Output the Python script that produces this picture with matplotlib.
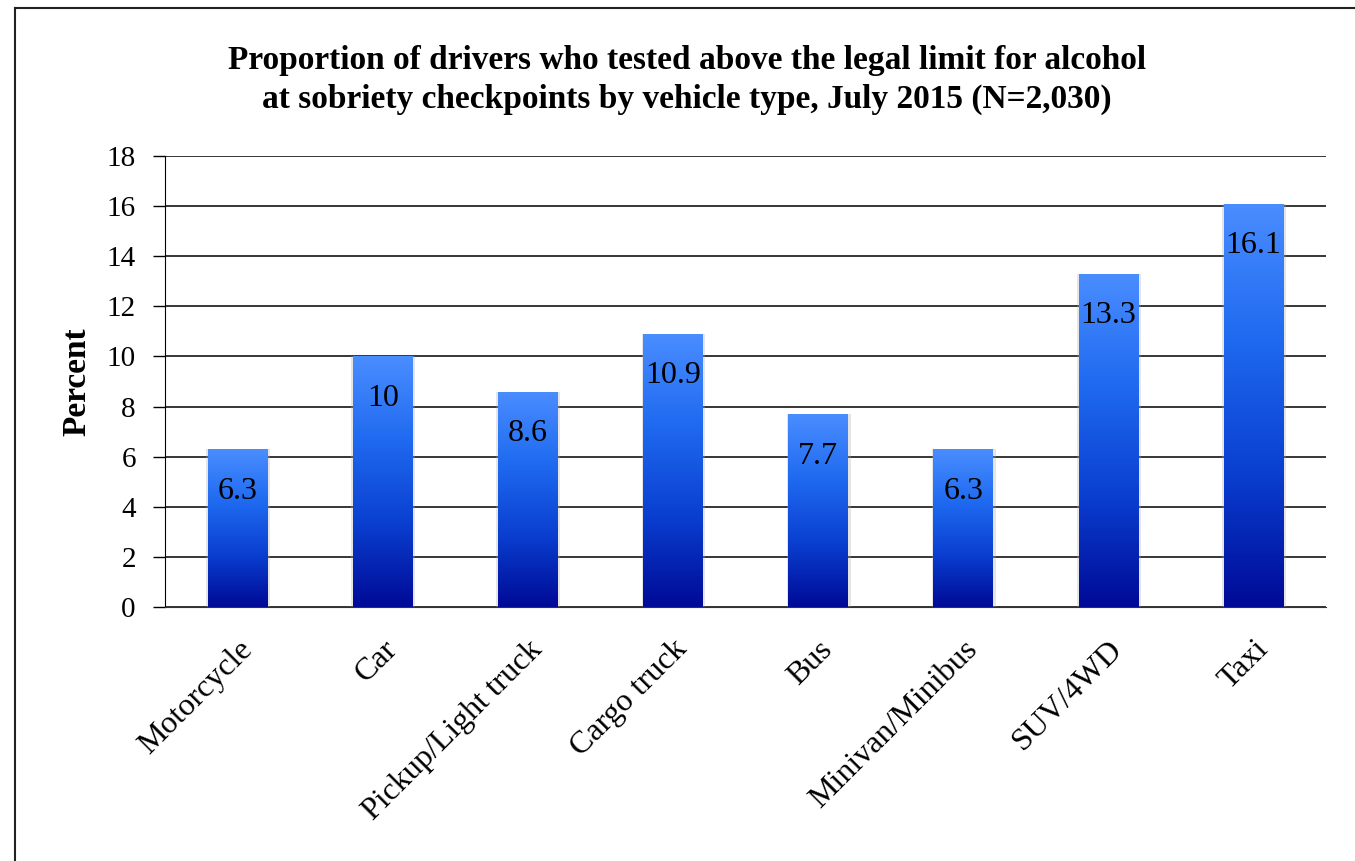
import matplotlib.pyplot as plt
import numpy as np
from matplotlib.colors import LinearSegmentedColormap
from matplotlib.lines import Line2D

vehicles = ["Motorcycle", "Car", "Pickup/Light truck", "Cargo truck", "Bus",
            "Minivan/Minibus", "SUV/4WD", "Taxi"]
percent = [6.3, 10, 8.6, 10.9, 7.7, 6.3, 13.3, 16.1]
value_labels = ["6.3", "10", "8.6", "10.9", "7.7", "6.3", "13.3", "16.1"]
y_ticks = [0, 2, 4, 6, 8, 10, 12, 14, 16, 18]

title = ("Proportion of drivers who tested above the legal limit for alcohol\n"
         "at sobriety checkpoints by vehicle type, July 2015 (N=2,030)")

plt.rcParams["font.family"] = ["Liberation Serif", "DejaVu Serif"]

fig = plt.figure(figsize=(13.55, 8.61), dpi=100)
fig.patch.set_facecolor("white")
ax = fig.add_axes([0.1218, 0.295, 0.8568, 0.5238])

# frame around the figure (only top and left edges show)
fig.add_artist(Line2D([0.011, 0.011], [0, 0.9907], transform=fig.transFigure,
                      color="#222222", lw=1.5))
fig.add_artist(Line2D([0.011, 1.0], [0.9907, 0.9907], transform=fig.transFigure,
                      color="#222222", lw=1.5))

x = np.arange(len(vehicles))
bars = ax.bar(x, percent, width=0.41, facecolor="none", edgecolor="none", zorder=3)

cmap = LinearSegmentedColormap.from_list(
    "bar", ["#000a96", "#0a3fd0", "#1f6af0", "#4a8dff"])
grad = np.linspace(0, 1, 256).reshape(-1, 1)

for bar, lab in zip(bars, value_labels):
    x0, w, h = bar.get_x(), bar.get_width(), bar.get_height()
    # soft shadow around the bar
    ax.bar(x0 + w / 2 + 0.004, h, width=w + 0.03, color="#aaaaaa", alpha=0.3,
           zorder=2.5, edgecolor="none")
    im = ax.imshow(grad, cmap=cmap, origin="lower", aspect="auto",
                   extent=(x0, x0 + w, 0, h), zorder=3)
    im.set_clip_path(bar)
    ax.annotate(lab, xy=(x0 + w / 2, h), xytext=(0, -42),
                textcoords="offset pixels", ha="center", va="center",
                fontsize=23, color="black", zorder=4)

ax.set_xlim(-0.5, len(vehicles) - 0.5)
ax.set_ylim(0, 18)
ax.set_yticks(y_ticks)
ax.tick_params(axis="y", labelsize=21, length=9, width=1, direction="out", pad=12)
ax.grid(axis="y", color="black", lw=1.1, zorder=1)
ax.set_axisbelow(True)

ax.set_xticks(x)
ax.set_xticklabels(vehicles, rotation=45, ha="right", rotation_mode="anchor",
                   fontsize=23)
ax.tick_params(axis="x", length=0, pad=20)

for side in ["top", "right"]:
    ax.spines[side].set_visible(False)
ax.spines["left"].set_color("black")
ax.spines["bottom"].set_color("#333333")

ax.set_ylabel("Percent", fontsize=24, fontweight="bold", labelpad=10)
fig.text(0.507, 0.907, title, ha="center", va="center", fontsize=24,
         fontweight="bold", linespacing=1.3)

fig.savefig("out.png", dpi=100)
